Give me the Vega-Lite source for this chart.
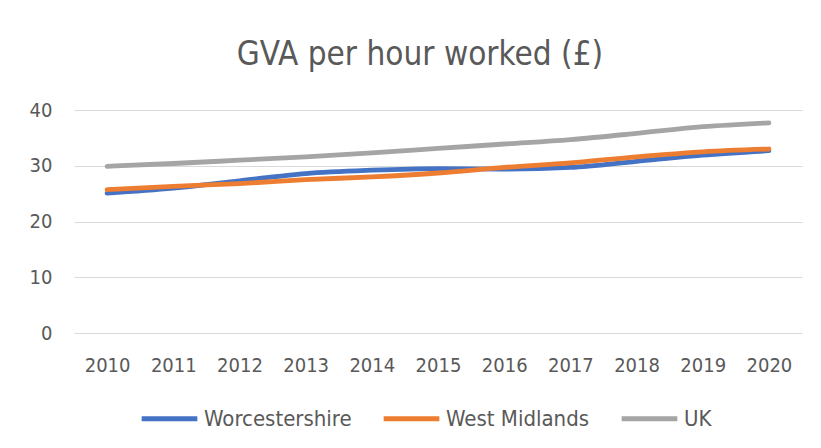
{
  "$schema": "https://vega.github.io/schema/vega-lite/v6.json",
  "autosize": "none",
  "width": 728,
  "height": 223,
  "padding": {"left": 74, "top": 110, "right": 19, "bottom": 115},
  "background": "white",
  "title": {
    "text": "GVA per hour worked (£)",
    "anchor": "middle",
    "font": "DejaVu Sans Condensed",
    "fontSize": 33,
    "fontWeight": "normal",
    "color": "#595959",
    "offset": 28,
    "dx": -18
  },
  "config": {
    "view": {"stroke": null},
    "font": "DejaVu Sans Condensed"
  },
  "data": {
    "values": [
      {"year": "2010", "series": "Worcestershire", "value": 25.1},
      {"year": "2011", "series": "Worcestershire", "value": 26.0},
      {"year": "2012", "series": "Worcestershire", "value": 27.3},
      {"year": "2013", "series": "Worcestershire", "value": 28.6},
      {"year": "2014", "series": "Worcestershire", "value": 29.2},
      {"year": "2015", "series": "Worcestershire", "value": 29.5},
      {"year": "2016", "series": "Worcestershire", "value": 29.4},
      {"year": "2017", "series": "Worcestershire", "value": 29.7},
      {"year": "2018", "series": "Worcestershire", "value": 30.8},
      {"year": "2019", "series": "Worcestershire", "value": 31.9},
      {"year": "2020", "series": "Worcestershire", "value": 32.7},
      {"year": "2010", "series": "West Midlands", "value": 25.7},
      {"year": "2011", "series": "West Midlands", "value": 26.3},
      {"year": "2012", "series": "West Midlands", "value": 26.8},
      {"year": "2013", "series": "West Midlands", "value": 27.5},
      {"year": "2014", "series": "West Midlands", "value": 28.0},
      {"year": "2015", "series": "West Midlands", "value": 28.7},
      {"year": "2016", "series": "West Midlands", "value": 29.7},
      {"year": "2017", "series": "West Midlands", "value": 30.5},
      {"year": "2018", "series": "West Midlands", "value": 31.6},
      {"year": "2019", "series": "West Midlands", "value": 32.5},
      {"year": "2020", "series": "West Midlands", "value": 33.0},
      {"year": "2010", "series": "UK", "value": 29.9},
      {"year": "2011", "series": "UK", "value": 30.4},
      {"year": "2012", "series": "UK", "value": 31.0},
      {"year": "2013", "series": "UK", "value": 31.6},
      {"year": "2014", "series": "UK", "value": 32.3},
      {"year": "2015", "series": "UK", "value": 33.1},
      {"year": "2016", "series": "UK", "value": 33.9},
      {"year": "2017", "series": "UK", "value": 34.7},
      {"year": "2018", "series": "UK", "value": 35.8},
      {"year": "2019", "series": "UK", "value": 37.0},
      {"year": "2020", "series": "UK", "value": 37.7}
    ]
  },
  "mark": {"type": "line", "strokeWidth": 4.8, "strokeCap": "round", "strokeJoin": "round", "interpolate": "monotone"},
  "encoding": {
    "x": {
      "field": "year",
      "type": "ordinal",
      "scale": {"type": "point", "padding": 0.5},
      "axis": {
        "title": null,
        "labelAngle": 0,
        "labelFontSize": 20,
        "labelColor": "#595959",
        "labelPadding": 22,
        "ticks": false,
        "domain": false,
        "grid": false
      }
    },
    "y": {
      "field": "value",
      "type": "quantitative",
      "scale": {"domain": [0, 40], "nice": false},
      "axis": {
        "title": null,
        "values": [0, 10, 20, 30, 40],
        "labelFontSize": 20,
        "labelColor": "#595959",
        "labelPadding": 22,
        "ticks": false,
        "domain": false,
        "grid": true,
        "gridColor": "#D9D9D9",
        "gridWidth": 1.2
      }
    },
    "color": {
      "field": "series",
      "type": "nominal",
      "sort": ["Worcestershire", "West Midlands", "UK"],
      "scale": {"domain": ["Worcestershire", "West Midlands", "UK"], "range": ["#4472C4", "#ED7D31", "#A5A5A5"]},
      "legend": {
        "title": null,
        "orient": "none",
        "legendX": 65,
        "legendY": 278,
        "direction": "horizontal",
        "symbolType": "stroke",
        "symbolSize": 3100,
        "symbolStrokeWidth": 5,
        "labelFontSize": 22,
        "labelColor": "#595959",
        "labelOffset": 4,
        "columnPadding": 21,
        "labelLimit": 300
      }
    }
  }
}
